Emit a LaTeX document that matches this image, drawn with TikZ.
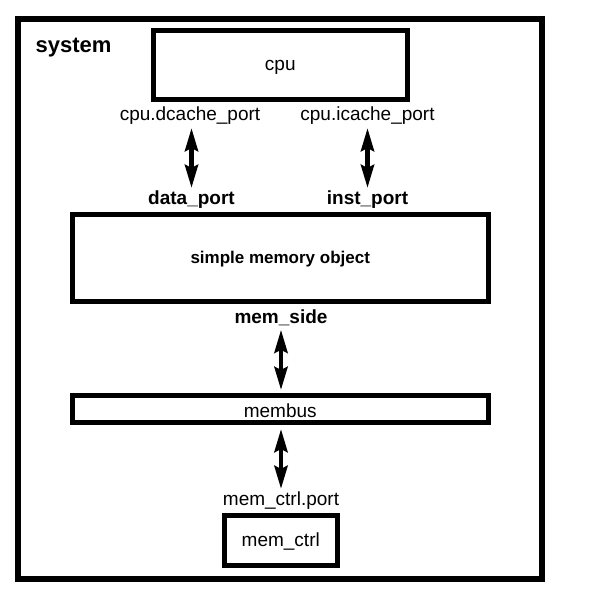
\documentclass[tikz,border=0pt]{standalone}
\usepackage{fontspec}
\setmainfont{Liberation Sans}
\usetikzlibrary{arrows.meta}
\newcommand\dropby[2]{\raisebox{-#1}[\height][\depth]{#2}}
\begin{document}
\begin{tikzpicture}[
			x=1pt, y=-1pt,
			every node/.style={font=\fontsize{19}{22}\selectfont},
			box/.style={draw, line width=5pt, inner sep=0pt},
			port/.style={inner sep=2pt},
			link/.style={line width=4.5pt, {Stealth[length=23pt,width=13pt,inset=3pt]}-{Stealth[length=23pt,width=13pt,inset=3pt]}}
		]
		\useasboundingbox (0,0) rectangle (592,597);
		\node[box, line width=6pt, minimum width=524pt, minimum height=560pt] (system) at (279.5,298.5) {};
		\node[font=\fontsize{22}{26}\selectfont\bfseries] (syslabel) at (73.5,47.5) {system};
		% cpu and its ports
		\node[box, minimum width=254.5pt, minimum height=68.5pt] (cpu) at (280.25,64.75) {\dropby{3pt}{cpu}};
		\node[port] (dport) at (190,116) {cpu.dcache\_port};
		\node[port] (iport) at (367.5,116) {cpu.icache\_port};
		\node[port, font=\fontsize{19}{22}\selectfont\bfseries] (dataport) at (191.5,200) {data\_port};
		\node[port, font=\fontsize{19}{22}\selectfont\bfseries] (instport) at (367.5,200) {inst\_port};
		% memory object
		\node[box, minimum width=415.5pt, minimum height=87.5pt, font=\fontsize{17}{20}\selectfont\bfseries] (memobj) at (280.25,257.75) {\dropby{1pt}{simple memory object}};
		\node[port, font=\fontsize{19}{22}\selectfont\bfseries] (memside) at (281,317.5) {mem\_side};
		% bus and controller
		\node[box, minimum width=415.5pt, minimum height=27pt] (membus) at (280.25,409) {\dropby{2pt}{membus}};
		\node[port] (ctrlport) at (281,501) {mem\_ctrl.port};
		\node[box, minimum width=113.5pt, minimum height=50pt] (memctrl) at (280.75,540.5) {\dropby{1pt}{mem\_ctrl}};
		\draw[link, shorten <=1pt, shorten >=1pt] (dport.south -| 191.5,0) -- (dataport.north -| 191.5,0);
		\draw[link, shorten <=1pt, shorten >=1pt] (iport.south) -- (instport.north);
		\draw[link, shorten <=2pt, shorten >=3pt] (memside.south) -- (membus.north -| memside);
		\draw[link, shorten <=4pt, shorten >=1pt] (membus.south -| ctrlport) -- (ctrlport.north);
	\end{tikzpicture}
\end{document}
